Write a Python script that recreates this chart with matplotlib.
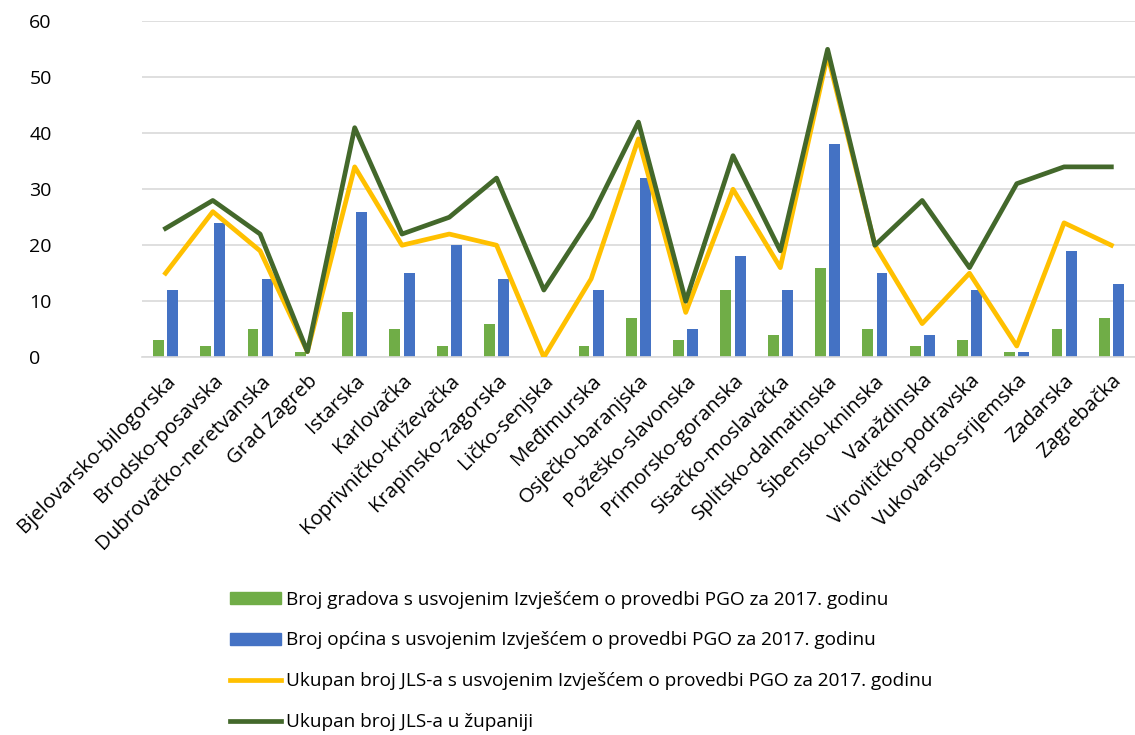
import numpy as np
import matplotlib
matplotlib.use('Agg')
import matplotlib.pyplot as plt
from matplotlib.patches import Patch
from matplotlib.lines import Line2D

zupanije = ['Bjelovarsko-bilogorska', 'Brodsko-posavska', 'Dubrovačko-neretvanska',
            'Grad Zagreb', 'Istarska', 'Karlovačka', 'Koprivničko-križevačka',
            'Krapinsko-zagorska', 'Ličko-senjska', 'Međimurska', 'Osječko-baranjska',
            'Požeško-slavonska', 'Primorsko-goranska', 'Sisačko-moslavačka',
            'Splitsko-dalmatinska', 'Šibensko-kninska', 'Varaždinska',
            'Virovitičko-podravska', 'Vukovarsko-srijemska', 'Zadarska', 'Zagrebačka']
gradovi = [3, 2, 5, 1, 8, 5, 2, 6, 0, 2, 7, 3, 12, 4, 16, 5, 2, 3, 1, 5, 7]
opcine = [12, 24, 14, 0, 26, 15, 20, 14, 0, 12, 32, 5, 18, 12, 38, 15, 4, 12, 1, 19, 13]
ukupno_usvojeno = [15, 26, 19, 1, 34, 20, 22, 20, 0, 14, 39, 8, 30, 16, 54, 20, 6, 15, 2, 24, 20]
ukupno_jls = [23, 28, 22, 1, 41, 22, 25, 32, 12, 25, 42, 10, 36, 19, 55, 20, 28, 16, 31, 34, 34]

labels = ['Broj gradova s usvojenim Izvješćem o provedbi PGO za 2017. godinu',
          'Broj općina s usvojenim Izvješćem o provedbi PGO za 2017. godinu',
          'Ukupan broj JLS-a s usvojenim Izvješćem o provedbi PGO za 2017. godinu',
          'Ukupan broj JLS-a u županiji']

c_green = '#70AD47'
c_blue = '#4472C4'
c_yellow = '#FFC000'
c_dark = '#43682B'

plt.rcParams['font.family'] = ['Open Sans', 'DejaVu Sans']

fig = plt.figure(figsize=(11.35, 7.35), dpi=100)
ax = fig.add_axes([0.125, 0.514, 0.875, 0.457])

x = np.arange(len(zupanije))
w = 0.23
ax.bar(x - 0.15, gradovi, w, color=c_green, zorder=2)
ax.bar(x + 0.15, opcine, w, color=c_blue, zorder=2)
ax.plot(x, ukupno_usvojeno, color=c_yellow, lw=3.4, zorder=3, solid_joinstyle='round')
ax.plot(x, ukupno_jls, color=c_dark, lw=3.4, zorder=4, solid_joinstyle='round')

ax.set_xlim(-0.5, len(zupanije) - 0.5)
ax.set_ylim(0, 60)
ax.set_yticks(range(0, 61, 10))
ax.yaxis.grid(True, color='#D9D9D9', lw=1.2, zorder=0)
ax.set_axisbelow(True)
for s in ['top', 'right', 'left']:
    ax.spines[s].set_visible(False)
ax.spines['bottom'].set_color('#D9D9D9')
ax.spines['bottom'].set_linewidth(1.2)
ax.tick_params(length=0, colors='black')
ax.tick_params(axis='y', labelsize=14, pad=81)
for t in ax.get_yticklabels():
    t.set_horizontalalignment('left')
ax.set_xticks(x)
ax.set_xticklabels(zupanije, rotation=45, ha='right', rotation_mode='anchor', fontsize=14.7)
ax.tick_params(axis='x', pad=10)

handles = [Patch(color=c_green), Patch(color=c_blue),
           Line2D([], [], color=c_yellow, lw=3.4),
           Line2D([], [], color=c_dark, lw=3.4)]
fig.legend(handles, labels, loc='upper left', bbox_to_anchor=(0.194, 0.2095),
           frameon=False, fontsize=13.7, labelspacing=1.2, handlelength=2.7,
           handleheight=0.6, handletextpad=0.27, borderpad=0)

fig.savefig('out.png', dpi=100)
